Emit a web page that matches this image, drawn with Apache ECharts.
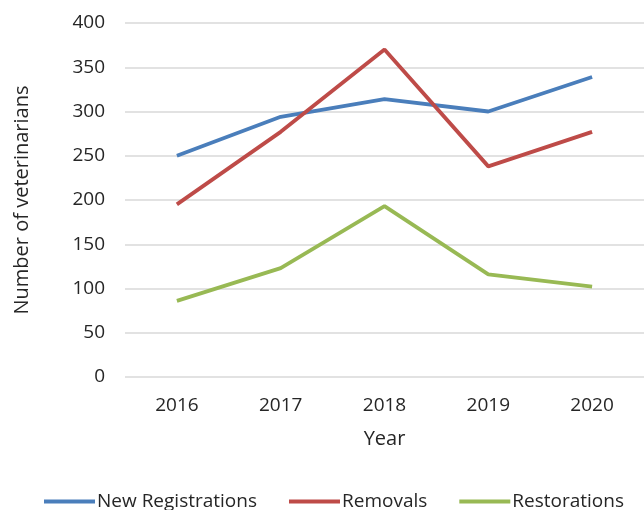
<!DOCTYPE html>
<html>
<head>
<meta charset="utf-8">
<script src="https://cdn.jsdelivr.net/npm/echarts@6/dist/echarts.min.js"></script>
<style>
  html, body { margin: 0; padding: 0; background: #fff; }
  #chart { width: 644px; height: 510px; }
</style>
</head>
<body>
<div id="chart"></div>
<script>
// Veterinarian register changes per year
const years = ['2016', '2017', '2018', '2019', '2020'];
const newRegistrations = [250, 294, 314, 300, 339];
const removals = [195, 277, 370, 238, 277];
const restorations = [86, 123, 193, 116, 102];
const yTicks = { min: 0, max: 400, interval: 50 };

const font = '"Open Sans", "Noto Sans", sans-serif';
const textColor = '#262626';

const chart = echarts.init(document.getElementById('chart'), null, { renderer: 'canvas' });

function lineSeries(name, data, color) {
  return {
    name: name,
    type: 'line',
    data: data,
    symbol: 'none',
    lineStyle: { color: color, width: 3.8 },
    itemStyle: { color: color },
    animation: false
  };
}

chart.setOption({
  backgroundColor: '#ffffff',
  animation: false,
  grid: { left: 125, right: -9, top: 23, bottom: 133 },
  xAxis: {
    type: 'category',
    data: years,
    boundaryGap: true,
    name: 'Year',
    nameLocation: 'middle',
    nameGap: 52,
    nameTextStyle: { fontFamily: font, fontSize: 20, color: textColor },
    axisLine: { show: false },
    axisTick: { show: false },
    axisLabel: { fontFamily: font, fontSize: 19, color: textColor, margin: 19 }
  },
  yAxis: {
    type: 'value',
    min: yTicks.min,
    max: yTicks.max,
    interval: yTicks.interval,
    name: 'Number of veterinarians',
    nameLocation: 'middle',
    nameGap: 93,
    nameTextStyle: { fontFamily: font, fontSize: 20, color: textColor },
    axisLine: { show: false },
    axisTick: { show: false },
    axisLabel: { fontFamily: font, fontSize: 19, color: textColor, margin: 20 },
    splitLine: { lineStyle: { color: '#d9d9d9', width: 1.5 } }
  },
  legend: {
    top: 487,
    left: 39,
    icon: 'rect',
    itemWidth: 51,
    itemHeight: 4,
    itemGap: 32,
    textStyle: { fontFamily: font, fontSize: 19, color: textColor, padding: [0, 0, 0, -3] },
    data: ['New Registrations', 'Removals', 'Restorations']
  },
  series: [
    lineSeries('New Registrations', newRegistrations, '#4a7ebb'),
    lineSeries('Removals', removals, '#be4b48'),
    lineSeries('Restorations', restorations, '#98b954')
  ]
});
</script>
</body>
</html>
